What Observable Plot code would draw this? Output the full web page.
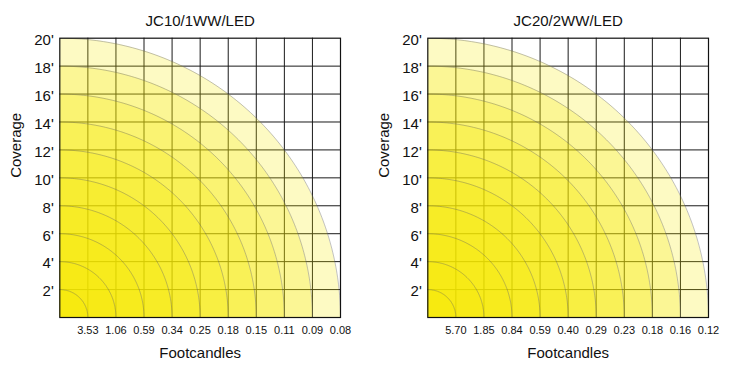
<!DOCTYPE html>
<html>
<head>
<meta charset="utf-8">
<script src="https://cdn.jsdelivr.net/npm/d3@7"></script>
<script src="https://cdn.jsdelivr.net/npm/@observablehq/plot@0.6"></script>
<style>
  body { margin: 0; background: #fff; }
  #wrap { display: flex; width: 736px; height: 370px; }
</style>
</head>
<body>
<div id="wrap"></div>
<script>
const titles = ["JC10/1WW/LED", "JC20/2WW/LED"];
const coverage = [2, 4, 6, 8, 10, 12, 14, 16, 18, 20];
const footcandles1 = ["3.53", "1.06", "0.59", "0.34", "0.25", "0.18", "0.15", "0.11", "0.09", "0.08"];
const footcandles2 = ["5.70", "1.85", "0.84", "0.59", "0.40", "0.29", "0.23", "0.18", "0.16", "0.12"];
const footcandles = [footcandles1, footcandles2];

// quarter-circle outline points for each coverage radius
const arcPts = [];
for (const r of coverage) {
  const n = 120;
  for (let k = 0; k <= n; k++) {
    const t = (k / n) * Math.PI / 2;
    arcPts.push({r, x: r * Math.sin(t), y: r * Math.cos(t)});
  }
}

function chart(title, fc) {
  return Plot.plot({
    width: 368,
    height: 370,
    marginLeft: 59.3,
    marginRight: 28,
    marginTop: 37.7,
    marginBottom: 53,
    style: {fontFamily: "'Liberation Sans', Arial, sans-serif", background: "#fff", color: "#111"},
    x: {domain: [0, 20], axis: null},
    y: {domain: [0, 20], axis: null},
    marks: [
      Plot.gridX(coverage.slice(0, -1), {stroke: "#1a1a1a", strokeOpacity: 1, strokeWidth: 1}),
      Plot.gridY(coverage.slice(0, -1), {stroke: "#1a1a1a", strokeOpacity: 1, strokeWidth: 1}),
      Plot.areaY(arcPts, {x: "x", y1: 0, y2: "y", z: "r", fill: "#f6e900", fillOpacity: 0.235, curve: "linear", clip: true}),
      Plot.line(arcPts, {x: "x", y: "y", z: "r", stroke: "#666", strokeOpacity: 0.4, strokeWidth: 1, clip: true}),
      Plot.frame({stroke: "#111", strokeWidth: 1.2}),
      Plot.axisY(coverage, {tickSize: 0, tickPadding: 6, fontSize: 15, dy: 2, tickFormat: d => d + "'", label: null}),
      Plot.axisX(coverage, {tickSize: 0, tickPadding: 8.5, fontSize: 11, tickFormat: d => fc[coverage.indexOf(d)], label: null}),
      Plot.text([title], {frameAnchor: "top", lineAnchor: "bottom", dy: -12, fontSize: 15, fill: "#111"}),
      Plot.text(["Footcandles"], {frameAnchor: "bottom", lineAnchor: "bottom", dy: 40, fontSize: 15, fill: "#111"}),
      Plot.text(["Coverage"], {frameAnchor: "left", rotate: -90, dx: -44, fontSize: 15, fill: "#111"})
    ]
  });
}

const wrap = document.getElementById("wrap");
titles.forEach((t, i) => wrap.appendChild(chart(t, footcandles[i])));
</script>
</body>
</html>
